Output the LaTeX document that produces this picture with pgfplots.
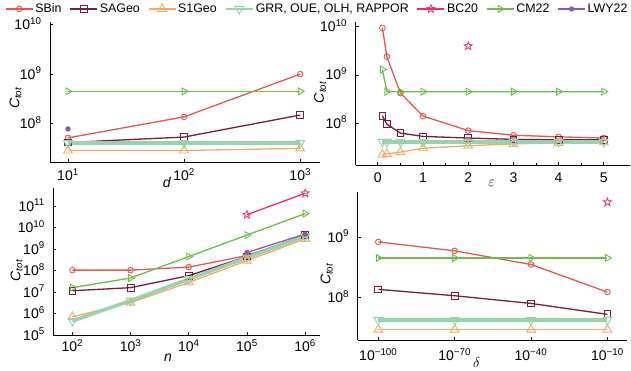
\documentclass[border=0pt]{standalone}
\usepackage{pgfplots}
\pgfplotsset{compat=1.18}
\usetikzlibrary{plotmarks}
\usepackage{fontspec}
\setmainfont{Liberation Sans}
\definecolor{csbin}{RGB}{226,88,78}
\definecolor{csageo}{RGB}{122,28,58}
\definecolor{cs1geo}{RGB}{246,168,100}
\definecolor{cgrr}{RGB}{150,212,175}
\definecolor{cbc}{RGB}{238,40,120}
\definecolor{ccm}{RGB}{108,190,72}
\definecolor{clwy}{RGB}{140,92,172}
\pgfdeclareplotmark{fstar}{%
  \pgfpathmoveto{\pgfpointpolar{90}{\pgfplotmarksize}}%
  \pgfpathlineto{\pgfpointpolar{126}{0.42\pgfplotmarksize}}%
  \pgfpathlineto{\pgfpointpolar{162}{\pgfplotmarksize}}%
  \pgfpathlineto{\pgfpointpolar{198}{0.42\pgfplotmarksize}}%
  \pgfpathlineto{\pgfpointpolar{234}{\pgfplotmarksize}}%
  \pgfpathlineto{\pgfpointpolar{270}{0.42\pgfplotmarksize}}%
  \pgfpathlineto{\pgfpointpolar{306}{\pgfplotmarksize}}%
  \pgfpathlineto{\pgfpointpolar{342}{0.42\pgfplotmarksize}}%
  \pgfpathlineto{\pgfpointpolar{18}{\pgfplotmarksize}}%
  \pgfpathlineto{\pgfpointpolar{54}{0.42\pgfplotmarksize}}%
  \pgfpathclose\pgfusepathqstroke}
\pgfplotsset{
  sbin/.style={color=csbin, line width=1.3pt, mark=o, mark size=2.8pt, mark options={solid, fill=none, line width=0.9pt}},
  sageo/.style={color=csageo, line width=1.3pt, mark=square, mark size=3.4pt, mark options={solid, fill=none, line width=0.9pt}},
  s1geo/.style={color=cs1geo, line width=1.3pt, mark=triangle, mark size=5pt, mark options={solid, fill=none, line width=0.9pt}},
  grr/.style={color=cgrr, line width=3.5pt, mark=triangle, mark size=5pt, mark options={solid, rotate=180, fill=none, line width=1pt}},
  bc/.style={color=cbc, line width=1.3pt, mark=fstar, mark size=4.2pt, mark options={solid, fill=none, line width=0.8pt}},
  cm/.style={color=ccm, line width=1.3pt, mark=triangle, mark size=4pt, mark options={solid, rotate=-90, fill=none, line width=0.9pt}},
  lwy/.style={color=clwy, line width=1.3pt, mark=*, mark size=2pt},
  myaxis/.style={
    scale only axis, anchor=south west,
    axis x line*=bottom, axis y line*=left,
    axis line style={line width=0.9pt, -},
    tick align=inside, major tick length=3pt, minor tick length=2pt,
    tick style={line width=0.8pt, black},
    ticklabel style={font=\fontsize{14}{16}\selectfont},
    label style={font=\fontsize{14}{16}\selectfont},
    /pgf/number format/assume math mode=true,
    yticklabel style={anchor=base east, xshift=-5pt, yshift=-5pt},
    log basis y=10,
    yticklabel={10\textsuperscript{\pgfmathprintnumber[fixed,precision=0]{\tick}}},
    minor y tick style={draw=none},
    ylabel={\textit{C}\textsubscript{\textit{tot}}},
    clip=false,
  },
  mylogx/.style={log basis x=10,
    xticklabel={10\textsuperscript{\pgfmathprintnumber[fixed,precision=0]{\tick}}},
    minor x tick style={draw=none}},
}
\begin{document}
\begin{tikzpicture}
\useasboundingbox (0,0) rectangle (631pt,370pt);
% ---------- Panel 1: d ----------
\begin{axis}[xmode=log, ymode=log, myaxis, mylogx, at={(50pt,208pt)}, width=270pt, height=140pt,
  xmin=7, xmax=1480, ymin=1.7e7, ymax=1.12e10,
  xtick={10,100,1000}, ytick={1e8,1e9,1e10},
  xticklabel style={anchor=base, yshift=-19pt},
  xlabel={\textit{d}},
  xlabel style={at={([yshift=-21pt]axis description cs:0.433,0)}, anchor=center},
  ylabel style={at={([xshift=-34.5pt]axis description cs:0,0.457)}, anchor=center},
  legend columns=7, legend cell align=left,
  legend image code/.code={\draw[mark repeat=2, mark phase=2] plot coordinates {(0pt,0pt) (13.5pt,0pt) (27pt,0pt)};},
  legend style={draw=none, fill=none, font=\fontsize{12.4}{14}\selectfont,
    at={(axis description cs:-0.167,1.093)}, anchor=west, inner sep=0pt,
    /tikz/every even column/.append style={column sep=6pt}},
]
\addlegendimage{sbin}\addlegendentry{SBin}
\addlegendimage{sageo}\addlegendentry{SAGeo}
\addlegendimage{s1geo}\addlegendentry{S1Geo}
\addlegendimage{grr, line width=2pt}\addlegendentry{GRR, OUE, OLH, RAPPOR}
\addlegendimage{bc}\addlegendentry{BC20}
\addlegendimage{cm}\addlegendentry{CM22}
\addlegendimage{lwy}\addlegendentry{LWY22}
\addplot[sbin, forget plot] coordinates {(10,5.2e7)(100,1.38e8)(1000,1e9)};
\addplot[sageo, forget plot] coordinates {(10,4.2e7)(100,5.4e7)(1000,1.5e8)};
\addplot[s1geo, forget plot] coordinates {(10,2.9e7)(100,2.9e7)(1000,3.2e7)};
\addplot[grr, forget plot] coordinates {(10,4.1e7)(100,4.1e7)(1000,4.1e7)};
\addplot[cm, forget plot] coordinates {(10,4.5e8)(100,4.5e8)(1000,4.5e8)};
\addplot[lwy, forget plot] coordinates {(10,7.9e7)};
\end{axis}
% ---------- Panel 2: epsilon ----------
\begin{axis}[ymode=log, myaxis, at={(355.7pt,205pt)}, width=274.3pt, height=143pt,
  xmin=-0.49, xmax=5.58, ymin=1.35e7, ymax=1.26e10,
  xtick={0,1,2,3,4,5}, minor x tick num=1, ytick={1e8,1e9,1e10},
  xticklabel style={anchor=base, yshift=-18pt},
  xlabel={$\varepsilon$},
  xlabel style={at={([yshift=-18pt]axis description cs:0.496,0)}, anchor=center},
  ylabel style={at={([xshift=-35.7pt]axis description cs:0,0.51)}, anchor=center},
]
\addplot[sbin] coordinates {(0.1,9.5e9)(0.2,2.4e9)(0.5,4.2e8)(1,1.4e8)(2,7e7)(3,5.6e7)(4,5.2e7)(5,4.9e7)};
\addplot[sageo] coordinates {(0.1,1.42e8)(0.2,9.5e7)(0.5,6.2e7)(1,5.3e7)(2,4.9e7)(3,4.6e7)(4,4.5e7)(5,4.5e7)};
\addplot[s1geo] coordinates {(0.1,2.2e7)(0.2,2.3e7)(0.5,2.5e7)(1,3e7)(2,3.4e7)(3,3.7e7)(4,3.9e7)(5,4e7)};
\addplot[grr] coordinates {(0.1,4.1e7)(0.2,4.1e7)(0.5,4.1e7)(1,4.1e7)(2,4.1e7)(3,4.1e7)(4,4.1e7)(5,4.1e7)};
\addplot[bc] coordinates {(2,4e9)};
\addplot[cm] coordinates {(0.1,1.3e9)(0.2,4.5e8)(0.5,4.5e8)(1,4.5e8)(2,4.5e8)(3,4.5e8)(4,4.5e8)(5,4.5e8)};
\end{axis}
% ---------- Panel 3: n ----------
\begin{axis}[xmode=log, ymode=log, myaxis, mylogx, at={(53.3pt,35pt)}, width=266.7pt, height=147pt,
  xmin=47, xmax=1.8e6, ymin=1e5, ymax=7e11,
  xtick={1e2,1e3,1e4,1e5,1e6}, ytick={1e5,1e6,1e7,1e8,1e9,1e10,1e11},
  xticklabel style={anchor=base, yshift=-16.7pt},
  xlabel={\textit{n}},
  xlabel style={at={([yshift=-23pt]axis description cs:0.43,0)}, anchor=center},
  ylabel style={at={([xshift=-36.8pt]axis description cs:0,0.44)}, anchor=center},
]
\addplot[sbin] coordinates {(1e2,1.05e8)(1e3,1.05e8)(1e4,1.45e8)(1e5,5e8)(1e6,4e9)};
\addplot[sageo] coordinates {(1e2,1.15e7)(1e3,1.6e7)(1e4,5.8e7)(1e5,4.5e8)(1e6,4.5e9)};
\addplot[s1geo] coordinates {(1e2,7e5)(1e3,3.2e6)(1e4,2.8e7)(1e5,2.9e8)(1e6,3e9)};
\addplot[grr] coordinates {(1e2,4.5e5)(1e3,4e6)(1e4,4e7)(1e5,4e8)(1e6,4e9)};
\addplot[bc] coordinates {(1e5,4e10)(1e6,4e11)};
\addplot[cm] coordinates {(1e2,1.6e7)(1e3,4.5e7)(1e4,4.5e8)(1e5,4.5e9)(1e6,4.5e10)};
\addplot[lwy] coordinates {(1e5,7e8)(1e6,5e9)};
\end{axis}
% ---------- Panel 4: delta ----------
\begin{axis}[ymode=log, myaxis, at={(357.7pt,30pt)}, width=269pt, height=148pt,
  xmin=-108.1, xmax=-2.4, ymin=1.95e7, ymax=5.6e9,
  xtick={-100,-70,-40,-10},
  xticklabels={10\textsuperscript{−100},10\textsuperscript{−70},10\textsuperscript{−40},10\textsuperscript{−10}},
  ytick={1e8,1e9},
  xticklabel style={anchor=base, yshift=-21pt},
  xlabel={$\delta$},
  xlabel style={at={([yshift=-23pt]axis description cs:0.442,0)}, anchor=center},
  ylabel style={at={([xshift=-31pt]axis description cs:0,0.446)}, anchor=center},
]
\addplot[sbin] coordinates {(-100,8.3e8)(-70,5.9e8)(-40,3.5e8)(-10,1.22e8)};
\addplot[sageo] coordinates {(-100,1.35e8)(-70,1.06e8)(-40,7.9e7)(-10,5.2e7)};
\addplot[s1geo] coordinates {(-100,2.9e7)(-70,2.9e7)(-40,2.9e7)(-10,2.9e7)};
\addplot[grr] coordinates {(-100,4.2e7)(-70,4.2e7)(-40,4.2e7)(-10,4.2e7)};
\addplot[bc] coordinates {(-10,3.8e9)};
\addplot[cm] coordinates {(-100,4.5e8)(-70,4.5e8)(-40,4.5e8)(-10,4.5e8)};
\end{axis}
\end{tikzpicture}
\end{document}
